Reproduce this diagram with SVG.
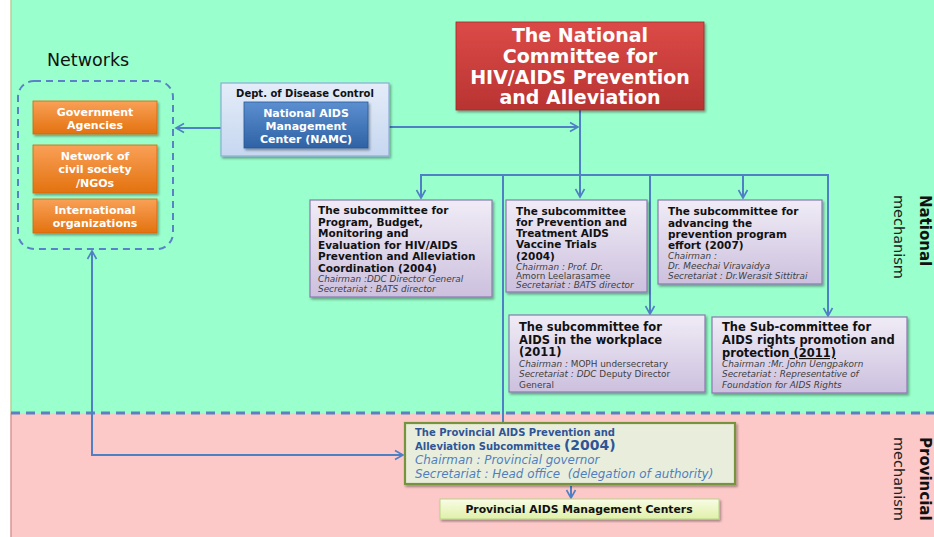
<svg xmlns="http://www.w3.org/2000/svg" width="934" height="537" viewBox="0 0 934 537">
<defs>
<linearGradient id="gOrange" x1="0" y1="0" x2="0" y2="1"><stop offset="0" stop-color="#F9A057"/><stop offset="1" stop-color="#E3720F"/></linearGradient>
<linearGradient id="gRed" x1="0" y1="0" x2="0" y2="1"><stop offset="0" stop-color="#DC4A47"/><stop offset="1" stop-color="#B83432"/></linearGradient>
<linearGradient id="gBlue" x1="0" y1="0" x2="0" y2="1"><stop offset="0" stop-color="#5B8FD0"/><stop offset="1" stop-color="#2F62A5"/></linearGradient>
<linearGradient id="gLightBlue" x1="0" y1="0" x2="0" y2="1"><stop offset="0" stop-color="#E4ECF8"/><stop offset="1" stop-color="#C6D7F0"/></linearGradient>
<linearGradient id="gPurple" x1="0" y1="0" x2="0" y2="1"><stop offset="0" stop-color="#F0ECF6"/><stop offset="1" stop-color="#CCC0DE"/></linearGradient>
<linearGradient id="gYellow" x1="0" y1="0" x2="0" y2="1"><stop offset="0" stop-color="#F8FCE6"/><stop offset="1" stop-color="#E0F0A8"/></linearGradient>
<filter id="sh" x="-10%" y="-10%" width="125%" height="130%"><feDropShadow dx="1.5" dy="2" stdDeviation="1.2" flood-color="#000" flood-opacity="0.35"/></filter>
<marker id="arr" markerUnits="userSpaceOnUse" markerWidth="12" markerHeight="12" refX="9" refY="5" orient="auto-start-reverse" viewBox="0 0 12 10">
<path d="M1,0.5 L9,5 L1,9.5" fill="none" stroke="#4F7FC4" stroke-width="1.6"/>
</marker>
</defs>
<style>
.t{font-family:"DejaVu Sans",Verdana,sans-serif}
.wb{font-family:"DejaVu Sans",Verdana,sans-serif;font-weight:bold;fill:#fff}
.sb{font-family:"DejaVu Sans",Verdana,sans-serif;font-weight:bold;fill:#111;font-size:10.5px}
.si{font-family:"DejaVu Sans",Verdana,sans-serif;font-style:italic;fill:#404040;font-size:8.9px}
.sn{font-family:"DejaVu Sans",Verdana,sans-serif;fill:#404040;font-size:8.9px}
.sub{fill:url(#gPurple);stroke:#8B78B0;stroke-width:1.2}
.org{fill:url(#gOrange);stroke:#D0660E;stroke-width:0.8}
.c{fill:none;stroke:#4F7FC4;stroke-width:2}
</style>
<rect x="0" y="0" width="934" height="537" fill="#ffffff"/>
<rect x="11" y="0" width="923" height="413" fill="#99FFCC"/>
<rect x="11" y="413" width="923" height="124" fill="#FDC8C8"/>
<line x1="11" y1="0" x2="11" y2="413" stroke="#B8CF9A" stroke-width="1.5"/>
<line x1="11" y1="413" x2="11" y2="537" stroke="#D99694" stroke-width="1.5"/>
<line x1="11" y1="413" x2="934" y2="413" stroke="#5A82C0" stroke-width="3" stroke-dasharray="9,6"/>

<text class="t" x="47" y="66" font-size="17.5" fill="#111">Networks</text>
<text class="t" transform="translate(920,195) rotate(90)" font-size="15" font-weight="bold" fill="#111">National</text>
<text class="t" transform="translate(894,195) rotate(90)" font-size="14.5" fill="#222">mechanism</text>
<text class="t" transform="translate(920,437) rotate(90)" font-size="15" font-weight="bold" fill="#111">Provincial</text>
<text class="t" transform="translate(894,437) rotate(90)" font-size="14.5" fill="#222">mechanism</text>

<g id="connectors">
<line class="c" x1="176" y1="128" x2="242" y2="128" marker-start="url(#arr)" marker-end="url(#arr)"/>
<line class="c" x1="370" y1="127" x2="578" y2="127" marker-start="url(#arr)" marker-end="url(#arr)"/>
<line class="c" x1="580" y1="110" x2="580" y2="197" marker-end="url(#arr)"/>
<line class="c" x1="421" y1="175" x2="828" y2="175"/>
<line class="c" x1="421" y1="174" x2="421" y2="198" marker-end="url(#arr)"/>
<line class="c" x1="503" y1="174" x2="503" y2="422"/>
<line class="c" x1="650" y1="174" x2="650" y2="314" marker-end="url(#arr)"/>
<line class="c" x1="743" y1="174" x2="743" y2="198" marker-end="url(#arr)"/>
<line class="c" x1="828" y1="174" x2="828" y2="316" marker-end="url(#arr)"/>
<path class="c" d="M92,251 L92,455 L403,455" marker-start="url(#arr)" marker-end="url(#arr)"/>
<line class="c" x1="571" y1="486" x2="571" y2="498" stroke-width="1.5" marker-end="url(#arr)"/>
</g>

<g id="networks">
<rect x="18" y="81" width="155" height="168" rx="16" fill="none" stroke="#5A82C8" stroke-width="2" stroke-dasharray="7,5"/>
</g>
<g id="gov">
<rect class="org" x="33" y="101" width="124" height="33" filter="url(#sh)"/>
<text class="wb" font-size="11" text-anchor="middle"><tspan x="95" y="116">Government</tspan><tspan x="95" y="129">Agencies</tspan></text>
</g>
<g id="ngo">
<rect class="org" x="33" y="145" width="124" height="48" filter="url(#sh)"/>
<text class="wb" font-size="11" text-anchor="middle"><tspan x="95" y="160">Network of</tspan><tspan x="95" y="173">civil society</tspan><tspan x="95" y="187">/NGOs</tspan></text>
</g>
<g id="intl">
<rect class="org" x="33" y="199" width="124" height="34" filter="url(#sh)"/>
<text class="wb" font-size="11" text-anchor="middle"><tspan x="95" y="214">International</tspan><tspan x="95" y="227">organizations</tspan></text>
</g>

<g id="ddc">
<rect x="221" y="83" width="168" height="73" fill="url(#gLightBlue)" stroke="#8EACD8" stroke-width="1.2" filter="url(#sh)"/>
<text class="t" x="305" y="97" font-size="10" font-weight="bold" fill="#111" text-anchor="middle">Dept. of Disease Control</text>
</g>
<g id="namc">
<rect x="244" y="102" width="124" height="46" fill="url(#gBlue)" stroke="#2A5794" stroke-width="0.8" filter="url(#sh)"/>
<text class="wb" font-size="11" text-anchor="middle"><tspan x="306" y="116.5">National AIDS</tspan><tspan x="306" y="129.5">Management</tspan><tspan x="306" y="142.5">Center (NAMC)</tspan></text>
</g>

<g id="national">
<rect x="456" y="22" width="248" height="88" fill="url(#gRed)" stroke="#9C2C2A" stroke-width="0.8" filter="url(#sh)"/>
<text class="wb" font-size="19" text-anchor="middle"><tspan x="580" y="42">The National</tspan><tspan x="580" y="63">Committee for</tspan><tspan x="580" y="84">HIV/AIDS Prevention</tspan><tspan x="580" y="104">and Alleviation</tspan></text>
</g>

<g id="sub-program">
<rect class="sub" x="310" y="200" width="182" height="97" filter="url(#sh)"/>
<text class="sb"><tspan x="318" y="214">The subcommittee for</tspan><tspan x="318" y="225.5">Program, Budget,</tspan><tspan x="318" y="237">Monitoring and</tspan><tspan x="318" y="248.5">Evaluation for HIV/AIDS</tspan><tspan x="318" y="260">Prevention and Alleviation</tspan><tspan x="318" y="271.5">Coordination (2004)</tspan></text>
<text class="si"><tspan x="318" y="281.5">Chairman :DDC Director General</tspan><tspan x="318" y="291.5">Secretariat :  BATS director</tspan></text>
</g>

<g id="sub-vaccine">
<rect class="sub" x="506" y="200" width="141" height="92" filter="url(#sh)"/>
<text class="sb"><tspan x="516" y="215">The subcommittee</tspan><tspan x="516" y="226">for Prevention and</tspan><tspan x="516" y="237">Treatment AIDS</tspan><tspan x="516" y="248">Vaccine Trials</tspan><tspan x="516" y="260">(2004)</tspan></text>
<text class="si" x="516" y="270">Chairman : Prof. Dr.</text>
<text class="sn" x="516" y="279">Amorn Leelarasamee</text>
<text class="si" x="516" y="288">Secretariat : BATS director</text>
</g>

<g id="sub-advancing">
<rect class="sub" x="658" y="200" width="164" height="84" filter="url(#sh)"/>
<text class="sb"><tspan x="668" y="215">The subcommittee for</tspan><tspan x="668" y="227">advancing the</tspan><tspan x="668" y="238">prevention program</tspan><tspan x="668" y="249">effort (2007)</tspan></text>
<text class="si"><tspan x="668" y="259">Chairman :</tspan><tspan x="668" y="269">Dr. Meechai Viravaidya</tspan><tspan x="668" y="279">Secretariat : Dr.Werasit Sittitrai</tspan></text>
</g>

<g id="sub-workplace">
<rect class="sub" x="509" y="315" width="196" height="77" filter="url(#sh)"/>
<text class="sb" style="font-size:11.5px"><tspan x="519" y="331">The subcommittee for</tspan><tspan x="519" y="343.5">AIDS in the workplace</tspan><tspan x="519" y="356">(2011)</tspan></text>
<text class="sn" x="519" y="366.5"><tspan font-style="italic">Chairman :</tspan> MOPH undersecretary</text>
<text class="sn" x="519" y="377"><tspan font-style="italic">Secretariat : DDC</tspan> Deputy Director</text>
<text class="sn" x="519" y="387.5">General</text>
</g>

<g id="sub-rights">
<rect class="sub" x="712" y="317" width="195" height="76" filter="url(#sh)"/>
<text class="sb" style="font-size:11.5px"><tspan x="722" y="331">The Sub-committee for</tspan><tspan x="722" y="344">AIDS rights promotion and</tspan><tspan x="722" y="357">protection<tspan text-decoration="underline"> (2011)</tspan></tspan></text>
<text class="si"><tspan x="722" y="366.5">Chairman :Mr. John Uengpakorn</tspan><tspan x="722" y="377">Secretariat : Representative of</tspan><tspan x="722" y="387.5">Foundation for AIDS Rights</tspan></text>
</g>

<g id="provincial">
<rect x="405" y="423" width="330" height="61" fill="#E9EEDC" stroke="#77933C" stroke-width="2.2" filter="url(#sh)"/>
<text class="t" font-weight="bold" fill="#2F5596" font-size="10"><tspan x="415" y="436">The Provincial AIDS Prevention and</tspan><tspan x="415" y="450">Alleviation Subcommittee <tspan font-size="14">(2004)</tspan></tspan></text>
<text class="t" font-style="italic" fill="#4F7FC0" font-size="11.9"><tspan x="415" y="464">Chairman : Provincial governor</tspan><tspan x="415" y="477.5" xml:space="preserve">Secretariat : Head office  (delegation of authority)</tspan></text>
</g>

<g id="centers">
<rect x="440" y="499" width="279" height="20" fill="url(#gYellow)" stroke="#B9D28A" stroke-width="1" filter="url(#sh)"/>
<text class="t" x="579" y="513" font-size="10.8" font-weight="bold" fill="#111" text-anchor="middle">Provincial AIDS Management Centers</text>
</g>
</svg>
